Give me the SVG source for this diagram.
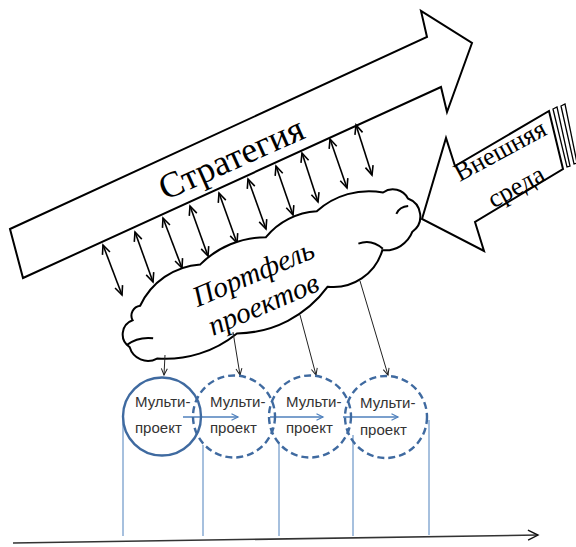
<svg xmlns="http://www.w3.org/2000/svg" width="576" height="547" viewBox="0 0 576 547">
<defs>
<marker id="dv" markerUnits="userSpaceOnUse" markerWidth="12" markerHeight="10" refX="10" refY="5" orient="auto-start-reverse" overflow="visible">
<path d="M1,1 L10,5 L1,9" fill="none" stroke="#000" stroke-width="1.6"/>
</marker>
<marker id="sv" markerUnits="userSpaceOnUse" markerWidth="8" markerHeight="8" refX="7" refY="4" orient="auto" overflow="visible">
<path d="M0.5,1 L7,4 L0.5,7" fill="none" stroke="#222" stroke-width="1"/>
</marker>
<marker id="bv" markerUnits="userSpaceOnUse" markerWidth="8" markerHeight="8" refX="7" refY="4" orient="auto" overflow="visible">
<path d="M0.5,0.8 L7,4 L0.5,7.2" fill="none" stroke="#4f81bd" stroke-width="1.2"/>
</marker>
<marker id="ax" markerUnits="userSpaceOnUse" markerWidth="12" markerHeight="12" refX="11" refY="6" orient="auto" overflow="visible">
<path d="M1,1 L11,6 L1,11" fill="none" stroke="#111" stroke-width="1.4"/>
</marker>
</defs>
<style>
.sh{fill:#fff;stroke:#000;stroke-width:2;stroke-linejoin:miter}
.dbl{stroke:#000;stroke-width:1.6;fill:none;marker-start:url(#dv);marker-end:url(#dv)}
.con{stroke:#222;stroke-width:1;fill:none;marker-end:url(#sv)}
.blu{stroke:#4f81bd;stroke-width:1.3;fill:none;marker-end:url(#bv)}
.vl{stroke:#4f81bd;stroke-width:1;fill:none}
.ci{fill:none;stroke:#3f6aa0;stroke-width:2.4}
.dash{stroke-dasharray:7 4}
.cl{fill:#fff;stroke:#000;stroke-width:2}
.cli{fill:none;stroke:#000;stroke-width:2}
</style>

<g id="strategy">
<polygon class="sh" points="10,229 427,37 421,11 472,43 447,112 441,87 23,278"/>
<text style="font-family:'Liberation Serif',serif;font-size:36px;fill:#000" text-anchor="middle" transform="translate(236,169) rotate(-24)">Стратегия</text>
</g>

<g id="connectors">
<line class="dbl" x1="103" y1="245" x2="122" y2="295"/>
<line class="dbl" x1="135" y1="232" x2="153" y2="282"/>
<line class="dbl" x1="163" y1="218" x2="182" y2="268"/>
<line class="dbl" x1="190" y1="206" x2="208" y2="256"/>
<line class="dbl" x1="219" y1="193" x2="237" y2="243"/>
<line class="dbl" x1="248" y1="179" x2="266" y2="229"/>
<line class="dbl" x1="276" y1="166" x2="293" y2="215"/>
<line class="dbl" x1="302" y1="153" x2="318" y2="202"/>
<line class="dbl" x1="330" y1="139" x2="347" y2="188"/>
<line class="dbl" x1="356" y1="125" x2="372" y2="175"/>
</g>

<g id="portfolio">
<g transform="translate(268,277) rotate(-25)">
<path class="cl" d="M-128,-28 A72,72 0 0 1 -56,-40 A93,93 0 0 1 15,-37 A71,71 0 0 1 72,-39 A78,78 0 0 1 140,-28 A17,17 0 0 1 160,-12 A19,19 0 0 1 150,20 A29,29 0 0 1 115,24 A51,51 0 0 1 50,34 A114,114 0 0 1 -52,38 A113,113 0 0 1 -135,27 A19,19 0 0 1 -155,5 A15,15 0 0 1 -141,-18 A10,10 0 0 1 -128,-28 Z"/>
<path class="cli" d="M143,-3 Q149,-8 157,-5"/>
<path class="cli" d="M96,8 Q110,9 116,23"/>
<path class="cli" d="M-157,2 Q-143,-1 -130,7"/>
</g>
<text style="font-family:'Liberation Serif',serif;font-size:29px;font-style:italic;fill:#000" text-anchor="middle" transform="translate(257,282) rotate(-23)">Портфель</text>
<text style="font-family:'Liberation Serif',serif;font-size:29px;font-style:italic;fill:#000" text-anchor="middle" transform="translate(267,313) rotate(-23)">проектов</text>
</g>

<g id="environment">
<polygon class="sh" points="422,219 446,138 455,166 549,111 563,169 475,222 484,251"/>
<polygon fill="#fff" stroke="#000" stroke-width="1.3" points="553,109 557,107 570,166 567,167"/>
<polygon fill="#fff" stroke="#000" stroke-width="1.3" points="561,106 565,104 577,163 574,164"/>
<text style="font-family:'Liberation Serif',serif;font-size:26px;fill:#000" text-anchor="middle" transform="translate(504,158) rotate(-28.5)">Внешняя</text>
<text style="font-family:'Liberation Serif',serif;font-size:26px;fill:#000" text-anchor="middle" transform="translate(520,194) rotate(-28.5)">среда</text>
</g>

<g id="links">
<line class="con" x1="165" y1="355" x2="164" y2="375"/>
<line class="con" x1="233" y1="332" x2="240" y2="375"/>
<line class="con" x1="300" y1="315" x2="316" y2="375"/>
<line class="con" x1="360" y1="281" x2="388" y2="375"/>
<line class="blu" x1="183" y1="417" x2="238" y2="417"/>
<line class="blu" x1="270" y1="417" x2="323" y2="417"/>
<line class="blu" x1="343" y1="417" x2="398" y2="417"/>
<line class="vl" x1="123" y1="418" x2="123" y2="536"/>
<line class="vl" x1="203" y1="445" x2="203" y2="536"/>
<line class="vl" x1="279" y1="442" x2="279" y2="536"/>
<line class="vl" x1="353" y1="435" x2="353" y2="536"/>
<line class="vl" x1="429" y1="420" x2="429" y2="535"/>
<line x1="13" y1="543" x2="538" y2="535" stroke="#333" stroke-width="1.6" marker-end="url(#ax)"/>
</g>

<g id="mp1">
<circle class="ci" cx="162" cy="416.5" r="39"/>
<text style="font-family:'Liberation Sans',sans-serif;font-size:15px;fill:#333" x="135" y="407">Мульти-</text>
<text style="font-family:'Liberation Sans',sans-serif;font-size:15px;fill:#333" x="135" y="433">проект</text>
</g>
<g id="mp2">
<circle class="ci dash" cx="234" cy="416.5" r="41"/>
<text style="font-family:'Liberation Sans',sans-serif;font-size:15px;fill:#333" x="210" y="407">Мульти-</text>
<text style="font-family:'Liberation Sans',sans-serif;font-size:15px;fill:#333" x="210" y="433">проект</text>
</g>
<g id="mp3">
<circle class="ci dash" cx="310" cy="416.5" r="41"/>
<text style="font-family:'Liberation Sans',sans-serif;font-size:15px;fill:#333" x="286" y="407">Мульти-</text>
<text style="font-family:'Liberation Sans',sans-serif;font-size:15px;fill:#333" x="286" y="433">проект</text>
</g>
<g id="mp4">
<circle class="ci dash" cx="386" cy="417" r="41"/>
<text style="font-family:'Liberation Sans',sans-serif;font-size:15px;fill:#333" x="360" y="408">Мульти-</text>
<text style="font-family:'Liberation Sans',sans-serif;font-size:15px;fill:#333" x="360" y="435">проект</text>
</g>
</svg>
